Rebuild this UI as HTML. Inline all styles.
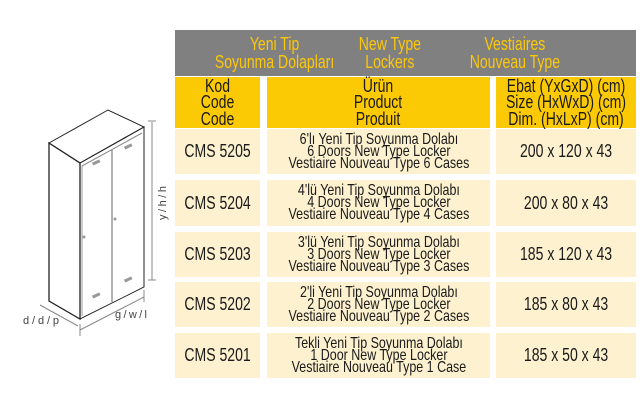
<!DOCTYPE html>
<html><head><meta charset="utf-8"><style>
body{margin:0;width:640px;height:400px;background:#fff;position:relative;overflow:hidden;font-family:"Liberation Sans",sans-serif;color:#1a1a1a}
.b{position:absolute;display:flex;align-items:center;justify-content:center;text-align:center}
.b span{display:inline-block;transform:scaleX(0.78);white-space:nowrap}
.hd{background:#808080;color:#fcc80a;font-size:18px;line-height:18px}
.y{background:#fcca05;font-size:18px;line-height:16.5px;color:#1a1a1a}
.c{background:#fdf1cf;font-size:18px}
.p{line-height:12px;font-size:16px}
</style></head><body>
<div class="b hd" style="left:175px;top:30px;width:461px;height:46px"></div>
<div class="b hd" style="left:195px;top:34px;width:160px;height:38px;background:none"><span>Yeni Tip<br>Soyunma Dolapları</span></div>
<div class="b hd" style="left:345px;top:34px;width:90px;height:38px;background:none"><span>New Type<br>Lockers</span></div>
<div class="b hd" style="left:455px;top:34px;width:120px;height:38px;background:none"><span>Vestiaires<br>Nouveau Type</span></div>
<div class="b y" style="left:175px;top:77px;width:85px;height:51px"><span>Kod<br>Code<br>Code</span></div>
<div class="b y" style="left:267px;top:77px;width:223px;height:51px"><span>Ürün<br>Product<br>Produit</span></div>
<div class="b y" style="left:496px;top:77px;width:140px;height:51px"><span>Ebat (YxGxD) (cm)<br>Size (HxWxD) (cm)<br>Dim. (HxLxP) (cm)</span></div>

<div class="b c" style="left:175px;top:129px;width:85px;height:45px"><span>CMS 5205</span></div>
<div class="b c p" style="left:267px;top:129px;width:223px;height:45px"><span>6'lı Yeni Tip Soyunma Dolabı<br>6 Doors New Type Locker<br>Vestiaire Nouveau Type 6 Cases</span></div>
<div class="b c" style="left:496px;top:129px;width:140px;height:45px"><span>200 x 120 x 43</span></div>

<div class="b c" style="left:175px;top:180px;width:85px;height:46px"><span>CMS 5204</span></div>
<div class="b c p" style="left:267px;top:180px;width:223px;height:46px"><span>4'lü Yeni Tip Soyunma Dolabı<br>4 Doors New Type Locker<br>Vestiaire Nouveau Type 4 Cases</span></div>
<div class="b c" style="left:496px;top:180px;width:140px;height:46px"><span>200 x 80 x 43</span></div>

<div class="b c" style="left:175px;top:232px;width:85px;height:45px"><span>CMS 5203</span></div>
<div class="b c p" style="left:267px;top:232px;width:223px;height:45px"><span>3'lü Yeni Tip Soyunma Dolabı<br>3 Doors New Type Locker<br>Vestiaire Nouveau Type 3 Cases</span></div>
<div class="b c" style="left:496px;top:232px;width:140px;height:45px"><span>185 x 120 x 43</span></div>

<div class="b c" style="left:175px;top:282px;width:85px;height:45px"><span>CMS 5202</span></div>
<div class="b c p" style="left:267px;top:282px;width:223px;height:45px"><span>2'li Yeni Tip Soyunma Dolabı<br>2 Doors New Type Locker<br>Vestiaire Nouveau Type 2 Cases</span></div>
<div class="b c" style="left:496px;top:282px;width:140px;height:45px"><span>185 x 80 x 43</span></div>

<div class="b c" style="left:175px;top:333px;width:85px;height:45px"><span>CMS 5201</span></div>
<div class="b c p" style="left:267px;top:333px;width:223px;height:45px"><span>Tekli Yeni Tip Soyunma Dolabı<br>1 Door New Type Locker<br>Vestiaire Nouveau Type 1 Case</span></div>
<div class="b c" style="left:496px;top:333px;width:140px;height:45px"><span>185 x 50 x 43</span></div>

<svg style="position:absolute;left:0;top:0" width="175" height="400">
<g fill="none" stroke="#222" stroke-width="1">
<polygon points="49,143 108,110 144,127 80,163"/>
<polygon points="49,143 80,163 80,319 49,301" stroke-width="1.3"/>
<polygon points="80,163 144,127 144,287 80,319"/>
<line x1="82" y1="166" x2="142" y2="133" stroke="#888"/>
<line x1="112" y1="150" x2="112" y2="302" stroke="#666"/>
<line x1="82" y1="166" x2="82" y2="316" stroke="#999"/>
<line x1="152" y1="122" x2="152" y2="280" stroke="#888"/>
<line x1="148" y1="121" x2="156" y2="121" stroke="#888"/>
<line x1="148" y1="280" x2="156" y2="280" stroke="#888"/>
<line x1="80" y1="330" x2="144" y2="297" stroke="#888"/>
<line x1="80" y1="324" x2="80" y2="336" stroke="#888"/>
<line x1="144" y1="290" x2="144" y2="302" stroke="#888"/>
<line x1="40" y1="305" x2="78" y2="326" stroke="#888"/>
</g>
<g fill="#999"><rect x="92" y="161" width="8" height="3" transform="rotate(-25 96 162)"/>
<rect x="124" y="145" width="8" height="3" transform="rotate(-25 128 146)"/>
<rect x="92" y="294" width="8" height="3" transform="rotate(-25 96 295)"/>
<rect x="124" y="278" width="8" height="3" transform="rotate(-25 128 279)"/>
<circle cx="84" cy="237" r="1.5"/><circle cx="115" cy="219" r="1.5"/></g>
<text x="23" y="324" font-size="11" fill="#444" font-family="Liberation Sans,sans-serif" textLength="36">d / d / p</text>
<text x="115" y="318" font-size="11" fill="#444" font-family="Liberation Sans,sans-serif" textLength="32">g / w / l</text>
<text transform="translate(166,220) rotate(-90)" font-size="11" fill="#444" font-family="Liberation Sans,sans-serif" textLength="34">y / h / h</text>
</svg>
</body></html>
